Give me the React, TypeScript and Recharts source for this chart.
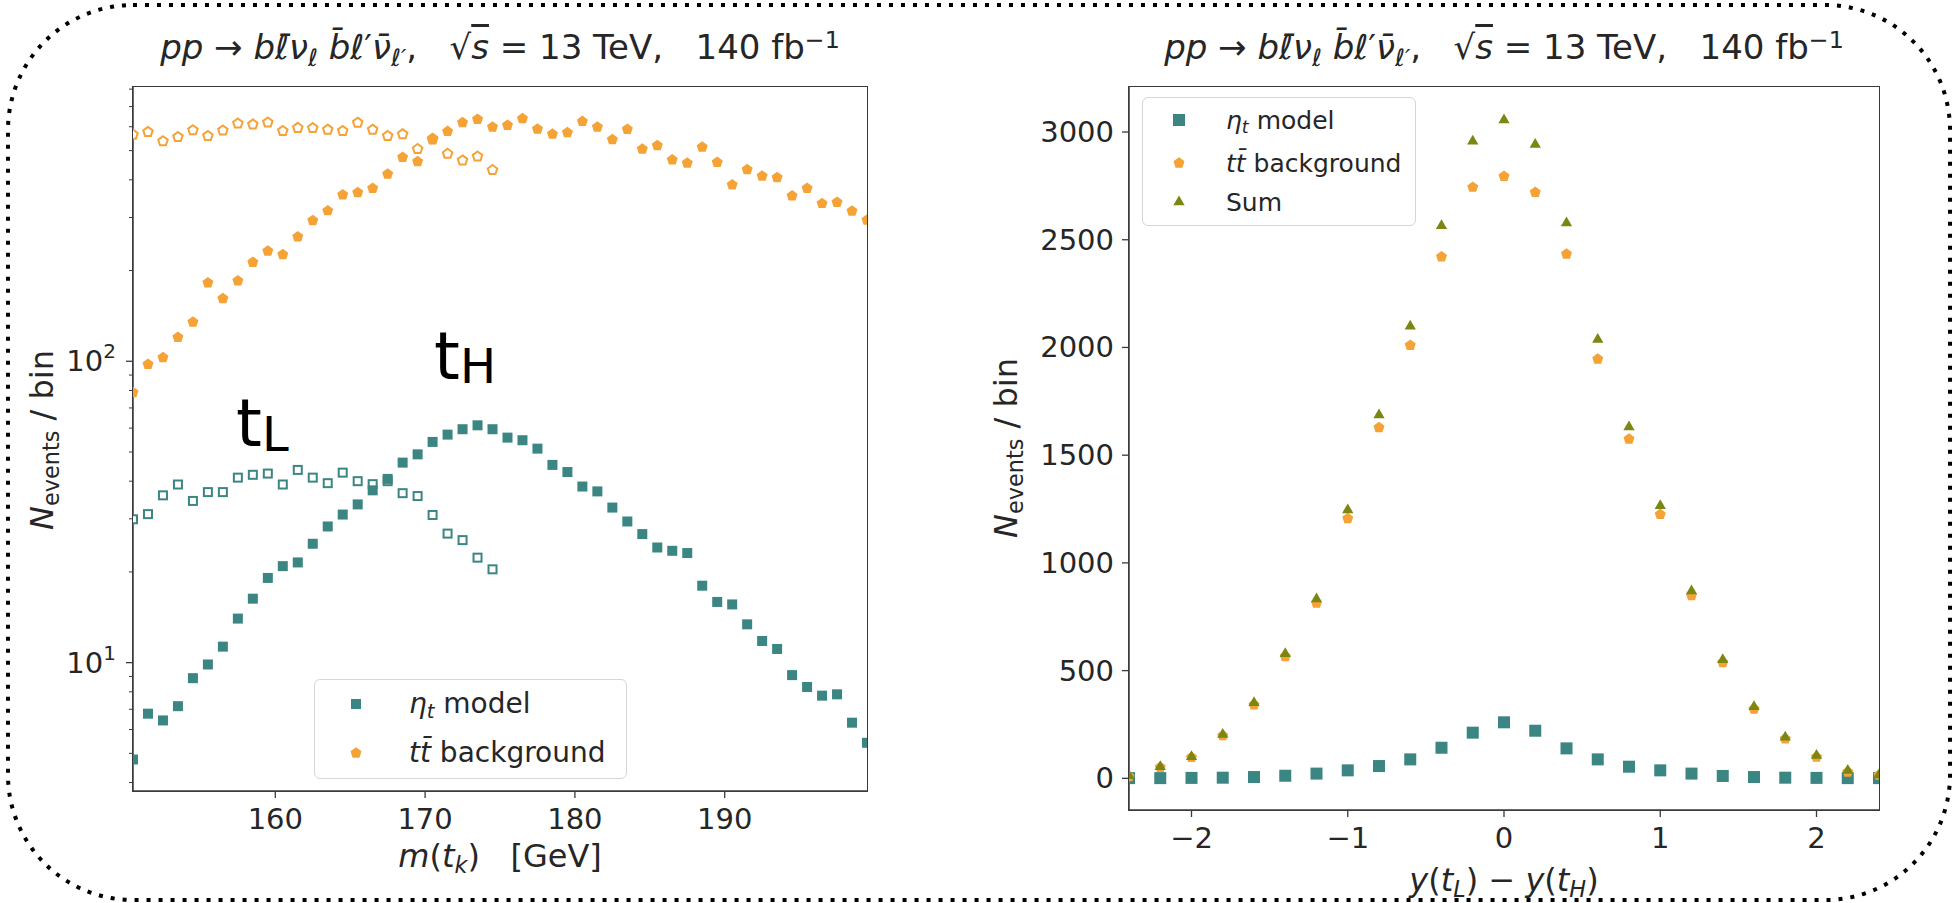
import React from 'react';
import { ScatterChart, Scatter, XAxis, YAxis } from 'recharts';

// m(t_k) bin centres [GeV]
const massBins = [
  150.5, 151.5, 152.5, 153.5, 154.5, 155.5, 156.5, 157.5, 158.5, 159.5,
  160.5, 161.5, 162.5, 163.5, 164.5, 165.5, 166.5, 167.5, 168.5, 169.5,
  170.5, 171.5, 172.5, 173.5, 174.5, 175.5, 176.5, 177.5, 178.5, 179.5,
  180.5, 181.5, 182.5, 183.5, 184.5, 185.5, 186.5, 187.5, 188.5, 189.5,
  190.5, 191.5, 192.5, 193.5, 194.5, 195.5, 196.5, 197.5, 198.5, 199.5,
];

// eta_t model, heavy top (filled squares)
const etaHeavy = [
  4.77, 6.77, 6.43, 7.17, 8.88, 9.86, 11.3, 14.0, 16.3, 19.1,
  20.9, 21.5, 24.8, 28.3, 31.0, 33.5, 37.3, 40.7, 46.1, 49.1,
  54.0, 57.1, 59.5, 61.3, 59.5, 55.8, 54.7, 51.3, 45.3, 42.9,
  38.4, 37.0, 32.7, 29.4, 26.7, 24.1, 23.5, 23.1, 18.0, 15.9,
  15.6, 13.4, 11.8, 11.1, 9.09, 8.30, 7.77, 7.85, 6.32, 5.42,
];

// eta_t model, light top (open squares, first 25 bins)
const etaLight = [
  29.9, 31.1, 35.9, 39.0, 34.4, 36.8, 36.8, 41.1, 42.0, 42.4,
  39.0, 43.6, 41.1, 39.4, 42.7, 40.0, 39.1, 40.0, 36.5, 35.7,
  30.9, 26.8, 25.5, 22.3, 20.4,
];

// ttbar background, heavy top (filled pentagons)
const bkgHeavy = [
  78.8, 97.7, 102.8, 120.1, 135, 182, 161.5, 185, 213, 232,
  226, 259, 293, 316, 357, 363, 375, 418, 475, 460,
  549, 579, 620, 635, 599, 607, 639, 590, 567, 574,
  625, 599, 544, 589, 506, 520, 466, 455, 514, 457,
  385, 433, 412, 407, 354, 375, 334, 337, 315, 294,
];

// ttbar background, light top (open pentagons, first 25 bins)
const bkgLight = [
  565, 577, 537, 555, 584, 559, 583, 615, 611, 620,
  581, 595, 594, 587, 581, 619, 587, 559, 567, 506,
  545, 488, 464, 478, 431,
];

const massTicks = [160, 170, 180, 190];
const logTicks = [
  4, 5, 6, 7, 8, 9, 10, 20, 30, 40, 50, 60, 70, 80, 90,
  100, 200, 300, 400, 500, 600, 700, 800,
];

// y(t_L) - y(t_H) bin centres
const rapBins = [
  -2.4, -2.2, -2.0, -1.8, -1.6, -1.4, -1.2, -1.0, -0.8, -0.6, -0.4, -0.2, 0,
  0.2, 0.4, 0.6, 0.8, 1.0, 1.2, 1.4, 1.6, 1.8, 2.0, 2.2, 2.4,
];
const rapModel = [
  1, 1, 2, 3, 6, 12, 22, 37, 57, 88, 142, 212, 260,
  221, 139, 88, 54, 37, 22, 11, 6, 3, 2, 1, 1,
];
const rapBkg = [
  8, 51, 98, 198, 341, 565, 813, 1206, 1628, 2010, 2421, 2744, 2794,
  2720, 2434, 1946, 1575, 1225, 848, 537, 322, 184, 99, 29, 15,
];
const rapSum = [
  12, 54, 100, 204, 351, 578, 832, 1246, 1687, 2098, 2565, 2957, 3056,
  2942, 2578, 2037, 1631, 1265, 869, 550, 332, 191, 106, 36, 16,
];
const rapXTicks = [-2, -1, 0, 1, 2];
const rapYTicks = [0, 500, 1000, 1500, 2000, 2500, 3000];

const FONT = '"DejaVu Sans", sans-serif';
const INK = '#262626';
const SPINE = '#3a3a3a';
const TEAL = '#3b8682';
const ORANGE = '#f5a236';
const OLIVE = '#7b8712';

const toPoints = (xs: number[], ys: number[]) => ys.map((y, i) => ({ x: xs[i], y }));

const square = (color: string, size: number, open = false) => (props: any) => {
  const { cx, cy } = props;
  if (cx == null || cy == null) return <g />;
  const h = size / 2;
  return open ? (
    <rect x={cx - h + 1} y={cy - h + 1} width={size - 2} height={size - 2} fill="#fff" stroke={color} strokeWidth={2} />
  ) : (
    <rect x={cx - h} y={cy - h} width={size} height={size} fill={color} />
  );
};

const pentagonPts = (cx: number, cy: number, r: number) =>
  [0, 1, 2, 3, 4]
    .map((k) => {
      const a = ((-90 + 72 * k) * Math.PI) / 180;
      return `${cx + r * Math.cos(a)},${cy + r * Math.sin(a)}`;
    })
    .join(' ');

const pentagon = (color: string, r: number, open = false) => (props: any) => {
  const { cx, cy } = props;
  if (cx == null || cy == null) return <g />;
  return open ? (
    <polygon points={pentagonPts(cx, cy, r - 0.8)} fill="#fff" stroke={color} strokeWidth={2} />
  ) : (
    <polygon points={pentagonPts(cx, cy, r)} fill={color} />
  );
};

const triangle = (color: string, r: number) => (props: any) => {
  const { cx, cy } = props;
  if (cx == null || cy == null) return <g />;
  const pts = `${cx},${cy - r} ${cx + r * 0.866},${cy + r / 2} ${cx - r * 0.866},${cy + r / 2}`;
  return <polygon points={pts} fill={color} />;
};

const fmtNum = (v: number) => (v < 0 ? '\u2212' + Math.abs(v) : String(v));

const XTick = (props: any) => {
  const { x, y, payload } = props;
  return (
    <g>
      <line x1={x} x2={x} y1={y} y2={y + 7} stroke={SPINE} strokeWidth={1.3} />
      <text x={x} y={y + 38} textAnchor="middle" fontSize={29} fontFamily={FONT} fill={INK}>
        {fmtNum(payload.value)}
      </text>
    </g>
  );
};

const LinYTick = (props: any) => {
  const { x, y, payload } = props;
  return (
    <g>
      <line x1={x - 7} x2={x} y1={y} y2={y} stroke={SPINE} strokeWidth={1.3} />
      <text x={x - 15} y={y + 10} textAnchor="end" fontSize={29} fontFamily={FONT} fill={INK}>
        {payload.value}
      </text>
    </g>
  );
};

const LogTick = (props: any) => {
  const { x, y, payload } = props;
  const v = payload.value;
  const major = v === 10 || v === 100;
  return (
    <g>
      <line x1={x - (major ? 7 : 4)} x2={x} y1={y} y2={y} stroke={SPINE} strokeWidth={major ? 1.3 : 1} />
      {major && (
        <text x={x - 17} y={y + 10} textAnchor="end" fontSize={29} fontFamily={FONT} fill={INK}>
          10
          <tspan dy={-13} fontSize={20}>
            {v === 10 ? '1' : '2'}
          </tspan>
        </text>
      )}
    </g>
  );
};

const spine = { stroke: SPINE, strokeWidth: 1.5 };

// top and right spines of a plot area
const Frame = ({ x0, y0, x1, y1 }: { x0: number; y0: number; x1: number; y1: number }) => (
  <div
    style={{
      position: 'absolute',
      left: x0 - 0.75,
      top: y0 - 0.75,
      width: x1 - x0 + 1.5,
      height: y1 - y0 + 1.5,
      boxSizing: 'border-box',
      border: `1.5px solid ${SPINE}`,
      pointerEvents: 'none',
    }}
  />
);

const Sub = ({ children }: any) => (
  <span style={{ fontSize: '0.7em', verticalAlign: '-0.28em', lineHeight: 0 }}>{children}</span>
);
const Sup = ({ children }: any) => (
  <span style={{ fontSize: '0.7em', verticalAlign: '0.45em', lineHeight: 0 }}>{children}</span>
);

const Title = ({ cx }: { cx: number }) => (
  <div
    style={{
      position: 'absolute',
      left: cx,
      top: 47,
      transform: 'translate(-50%, -50%)',
      fontSize: 34,
      lineHeight: 1,
      whiteSpace: 'nowrap',
      color: INK,
      fontFamily: FONT,
    }}
  >
    <i>pp</i> → <i>b</i>
    <i>ℓ&#x304;</i>
    <i>ν</i>
    <Sub>
      <i>ℓ</i>
    </Sub>{' '}
    <i>b&#x304;</i>
    <i>ℓ</i>′<i>ν&#x304;</i>
    <Sub>
      <i>ℓ′</i>
    </Sub>
    ,&nbsp;&nbsp; √<span style={{ textDecoration: 'overline' }}><i>s</i></span> = 13 TeV,&nbsp;&nbsp; 140 fb
    <Sup>−1</Sup>
  </div>
);

const AxisLabel = ({ cx, cy, rotate, children }: any) => (
  <div
    style={{
      position: 'absolute',
      left: cx,
      top: cy,
      transform: `translate(-50%, -50%)${rotate ? ' rotate(-90deg)' : ''}`,
      fontSize: 32,
      lineHeight: 1,
      whiteSpace: 'nowrap',
      color: INK,
      fontFamily: FONT,
    }}
  >
    {children}
  </div>
);

const Marker = ({ children }: any) => (
  <svg width={20} height={20} style={{ position: 'absolute', left: -10, top: -10 }}>
    {children}
  </svg>
);

type Row = { y: number; icon: React.ReactNode; label: React.ReactNode };

const LegendBox = ({ left, top, width, height, markerX, textX, rows, fontSize }: any) => (
  <div
    style={{
      position: 'absolute',
      left,
      top,
      width,
      height,
      boxSizing: 'border-box',
      border: '1.5px solid #d6d6d6',
      borderRadius: 6,
      background: 'rgba(255,255,255,0.85)',
      fontFamily: FONT,
      color: INK,
    }}
  >
    {rows.map((r: Row, i: number) => (
      <React.Fragment key={i}>
        <div style={{ position: 'absolute', left: markerX - left, top: r.y - top }}>
          <Marker>{r.icon}</Marker>
        </div>
        <div
          style={{
            position: 'absolute',
            left: textX - left,
            top: r.y - top,
            transform: 'translateY(-50%)',
            fontSize,
            lineHeight: 1,
            whiteSpace: 'nowrap',
          }}
        >
          {r.label}
        </div>
      </React.Fragment>
    ))}
  </div>
);

const etaLabel = (
  <span>
    <i>η</i>
    <Sub>
      <i>t</i>
    </Sub>{' '}
    model
  </span>
);
const ttLabel = (
  <span>
    <i>t</i>
    <i>t&#x304;</i> background
  </span>
);

export default function App() {
  return (
    <div style={{ position: 'absolute', left: 0, top: 0, width: 1959, height: 903, background: '#fff', overflow: 'hidden' }}>
      <svg width={1959} height={903} style={{ position: 'absolute', left: 0, top: 0 }}>
        <rect
          x={8}
          y={5}
          width={1942}
          height={895}
          rx={125}
          ry={125}
          fill="none"
          stroke="#000"
          strokeWidth={4}
          strokeDasharray="4 8"
        />
      </svg>

      {/* left panel: invariant mass, log scale */}
      <div style={{ position: 'absolute', left: 0, top: 0 }}>
        <ScatterChart width={900} height={903} margin={{ top: 87, right: 33, bottom: 62, left: 73 }}>
          <XAxis
            type="number"
            dataKey="x"
            domain={[150.5, 199.5]}
            ticks={massTicks}
            allowDataOverflow
            height={50}
            tickSize={0}
            tickMargin={0}
            tickLine={false}
            axisLine={spine}
            tick={(p: any) => <XTick {...p} />}
            interval={0}
          />
          <YAxis
            type="number"
            dataKey="y"
            scale="log"
            domain={[3.75, 813]}
            ticks={logTicks}
            allowDataOverflow
            width={60}
            tickSize={0}
            tickMargin={0}
            tickLine={false}
            axisLine={spine}
            tick={(p: any) => <LogTick {...p} />}
            interval={0}
          />
          <Scatter data={toPoints(massBins, etaLight)} shape={square(TEAL, 10, true)} isAnimationActive={false} />
          <Scatter data={toPoints(massBins, etaHeavy)} shape={square(TEAL, 10)} isAnimationActive={false} />
          <Scatter data={toPoints(massBins, bkgLight)} shape={pentagon(ORANGE, 5.8, true)} isAnimationActive={false} />
          <Scatter data={toPoints(massBins, bkgHeavy)} shape={pentagon(ORANGE, 5.8)} isAnimationActive={false} />
        </ScatterChart>
      </div>
      <Frame x0={133} y0={87} x1={867} y1={791} />

      {/* right panel: rapidity difference */}
      <div style={{ position: 'absolute', left: 1000, top: 0 }}>
        <ScatterChart width={959} height={903} margin={{ top: 87, right: 80, bottom: 43, left: 59 }}>
          <XAxis
            type="number"
            dataKey="x"
            domain={[-2.4, 2.4]}
            ticks={rapXTicks}
            allowDataOverflow
            height={50}
            tickSize={0}
            tickMargin={0}
            tickLine={false}
            axisLine={spine}
            tick={(p: any) => <XTick {...p} />}
            interval={0}
          />
          <YAxis
            type="number"
            dataKey="y"
            domain={[-147, 3209]}
            ticks={rapYTicks}
            allowDataOverflow
            width={70}
            tickSize={0}
            tickMargin={0}
            tickLine={false}
            axisLine={spine}
            tick={(p: any) => <LinYTick {...p} />}
            interval={0}
          />
          <Scatter data={toPoints(rapBins, rapModel)} shape={square(TEAL, 12)} isAnimationActive={false} />
          <Scatter data={toPoints(rapBins, rapBkg)} shape={pentagon(ORANGE, 5.8)} isAnimationActive={false} />
          <Scatter data={toPoints(rapBins, rapSum)} shape={triangle(OLIVE, 6.5)} isAnimationActive={false} />
        </ScatterChart>
      </div>
      <Frame x0={1129} y0={87} x1={1879} y1={810} />

      <Title cx={500} />
      <Title cx={1504} />

      {/* peak annotations */}
      <div style={{ position: 'absolute', left: 434, top: 357, fontFamily: FONT, color: '#000', lineHeight: 0, whiteSpace: 'nowrap' }}>
        <span style={{ fontSize: 66 }}>t</span>
        <span style={{ fontSize: 48, position: 'relative', top: 4 }}>H</span>
      </div>
      <div style={{ position: 'absolute', left: 236, top: 424, fontFamily: FONT, color: '#000', lineHeight: 0, whiteSpace: 'nowrap' }}>
        <span style={{ fontSize: 66 }}>t</span>
        <span style={{ fontSize: 48, position: 'relative', top: 5 }}>L</span>
      </div>

      <AxisLabel cx={500} cy={856}>
        <i>m</i>(<i>t</i>
        <Sub>
          <i>k</i>
        </Sub>
        )&nbsp;&nbsp;&nbsp;[GeV]
      </AxisLabel>
      <AxisLabel cx={42} cy={440} rotate>
        <i>N</i>
        <Sub>events</Sub> / bin
      </AxisLabel>
      <AxisLabel cx={1504} cy={880}>
        <i>y</i>(<i>t</i>
        <Sub>
          <i>L</i>
        </Sub>
        ) − <i>y</i>(<i>t</i>
        <Sub>
          <i>H</i>
        </Sub>
        )
      </AxisLabel>
      <AxisLabel cx={1006} cy={448} rotate>
        <i>N</i>
        <Sub>events</Sub> / bin
      </AxisLabel>

      <LegendBox
        left={314}
        top={679}
        width={313}
        height={100}
        markerX={355}
        textX={408}
        fontSize={28}
        rows={[
          { y: 703, icon: square(TEAL, 10)({ cx: 10, cy: 10 }), label: etaLabel },
          { y: 752, icon: pentagon(ORANGE, 5.8)({ cx: 10, cy: 10 }), label: ttLabel },
        ]}
      />
      <LegendBox
        left={1142}
        top={97}
        width={274}
        height={129}
        markerX={1178}
        textX={1225}
        fontSize={25}
        rows={[
          { y: 119, icon: square(TEAL, 12)({ cx: 10, cy: 10 }), label: etaLabel },
          { y: 162, icon: pentagon(ORANGE, 5.8)({ cx: 10, cy: 10 }), label: ttLabel },
          { y: 201, icon: triangle(OLIVE, 6.5)({ cx: 10, cy: 10 }), label: 'Sum' },
        ]}
      />
    </div>
  );
}
